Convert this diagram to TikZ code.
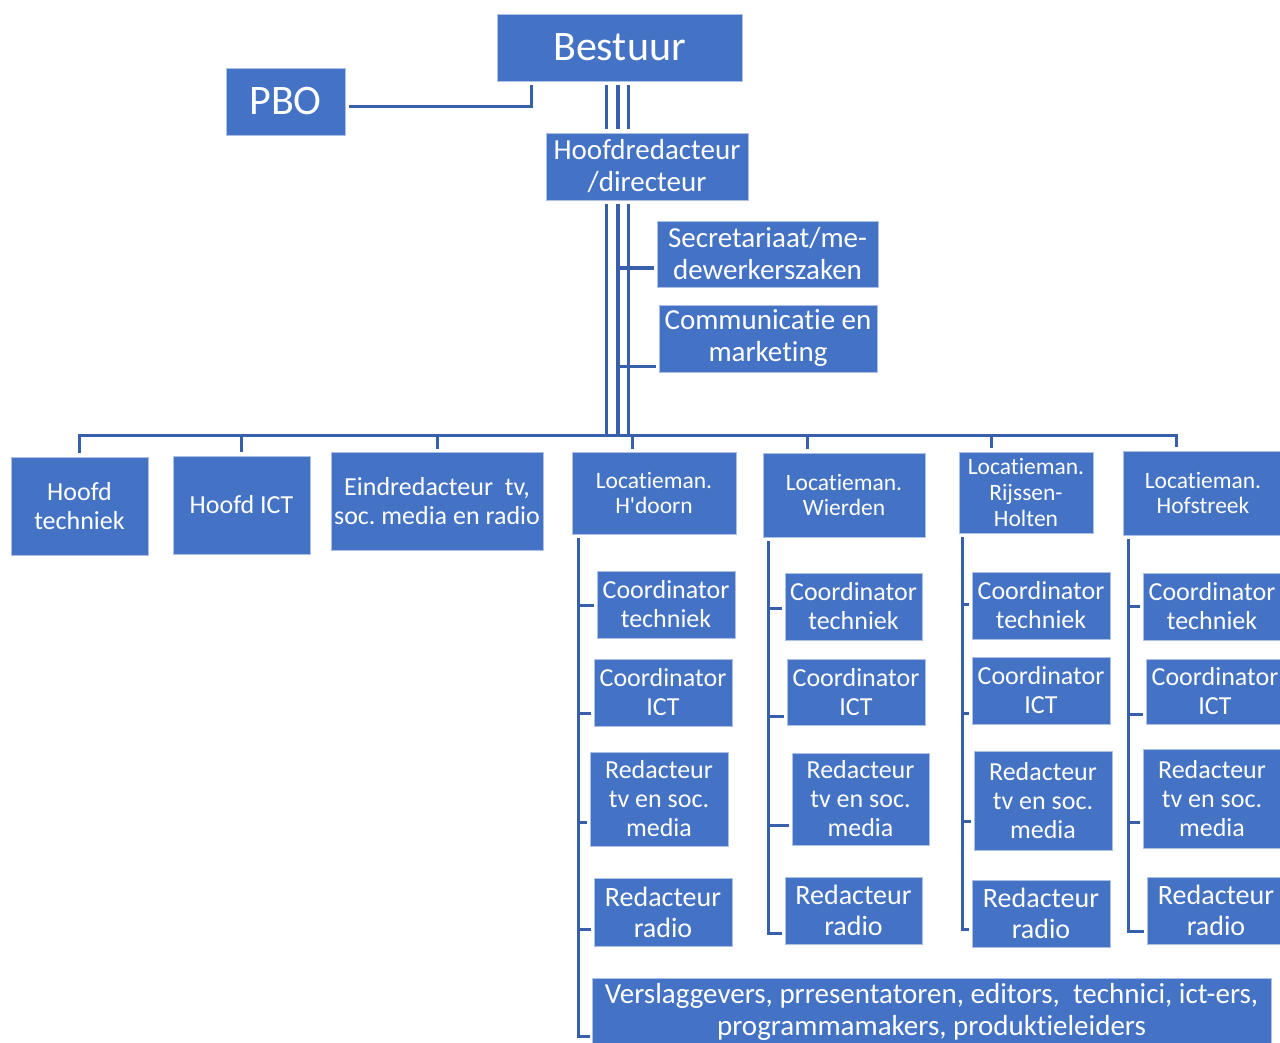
\documentclass[tikz,border=0pt]{standalone}
\usepackage{fontspec}
\setmainfont{Carlito}[Ligatures={NoCommon}]
\usetikzlibrary{calc}
\definecolor{boxblue}{RGB}{68,114,196}
\definecolor{lineblue}{RGB}{56,96,170}
\newcommand{\fsz}[2]{\fontsize{#1}{#2}\selectfont}
\newcommand{\nti}{t\kern0pt i}
\frenchspacing
\begin{document}
\begin{tikzpicture}[x=1pt,y=-1pt,
  box/.style={fill=boxblue, draw=white!55!boxblue, line width=0.8pt, text=white, inner sep=0pt, align=center},
  bx/.style 2 args={minimum width=#1, minimum height=#2},
  conn/.style={draw=lineblue, line width=3pt},
  coord/.style={box, font=\fsz{26}{29}},
  redtv/.style={box, font=\fsz{26}{29}},
  redra/.style={box, font=\fsz{28}{31}},
  loc/.style={box, font=\fsz{23.5}{25.5}},
]
\useasboundingbox (0,0) rectangle (1280,1043);
\clip (0,0) rectangle (1280,1043);
\fill[white] (0,0) rectangle (1280,1043);

% top
\node[box, bx={245}{67}, font=\fsz{42}{48}] (bestuur) at (619.5,47.5) {Bestuur};
\node[box, bx={119}{67}, font=\fsz{42}{48}] (pbo) at (285.5,101.5) {PBO};
\node[box, bx={202}{67}, font=\fsz{29}{32}] (hoofdred) at (647,166.5) {Hoofdredacteur\\/directeur};
\node[box, bx={221}{66}, font=\fsz{29}{32}] (secr) at (767.5,254) {Secretariaat/me-\\dewerkerszaken};
\node[box, bx={218}{67}, font=\fsz{29}{32}] (comm) at (768,338.5) {Communica\nti e en\\marketing};

% row
\node[box, bx={137}{98}, font=\fsz{26}{29}] (htech) at (79.5,506) {Hoofd\\techniek};
\node[box, bx={137}{98}, font=\fsz{26}{29}] (hict) at (241.5,505) {Hoofd ICT};
\node[box, bx={212}{98}, font=\fsz{26}{29}] (eind) at (437,501) {Eindredacteur\ \ tv,\\soc. media en radio};
\node[loc, bx={164}{82}] (lhd) at (654,493) {Loca\nti eman.\\H\textquotesingle doorn};
\node[loc, bx={162}{84}] (lwi) at (844,495) {Loca\nti eman.\\Wierden};
\node[loc, bx={134}{81}, font=\fsz{23.5}{26}] (lri) at (1026,492.5) {Loca\nti eman.\\Rijssen-\\Holten};
\node[loc, bx={160}{84}] (lho) at (1203,493) {Loca\nti eman.\\Hofstreek};

% H'doorn column
\node[coord, bx={138}{67}] (hct) at (666,604.5) {Coordinator\\techniek};
\node[coord, bx={138}{67}] (hci) at (663,692.5) {Coordinator\\ICT};
\node[redtv, bx={138}{94}] (hrt) at (659,799) {Redacteur\\tv en soc.\\media};
\node[redra, bx={138}{68}] (hrr) at (663,912) {Redacteur\\radio};
% Wierden column
\node[coord, bx={137}{67}] (wct) at (853.5,606.5) {Coordinator\\techniek};
\node[coord, bx={138}{66}] (wci) at (856,692) {Coordinator\\ICT};
\node[redtv, bx={137}{92}] (wrt) at (860.5,799) {Redacteur\\tv en soc.\\media};
\node[redra, bx={137}{67}] (wrr) at (853.5,910.5) {Redacteur\\radio};
% Rijssen column
\node[coord, bx={138}{67}] (rct) at (1041,605.5) {Coordinator\\techniek};
\node[coord, bx={138}{67}] (rci) at (1041,690.5) {Coordinator\\ICT};
\node[redtv, bx={138}{99}] (rrt) at (1043,800.5) {Redacteur\\tv en soc.\\media};
\node[redra, bx={138}{67}] (rrr) at (1041,913.5) {Redacteur\\radio};
% Hofstreek column
\node[coord, bx={138}{67}] (oct) at (1212,606.5) {Coordinator\\techniek};
\node[coord, bx={138}{65}] (oci) at (1215,691.5) {Coordinator\\ICT};
\node[redtv, bx={138}{99}] (ort) at (1212,798.5) {Redacteur\\tv en soc.\\media};
\node[redra, bx={138}{67}] (orr) at (1216,910.5) {Redacteur\\radio};

\node[box, bx={679}{68}, font=\fsz{29}{32}] (vers) at (931.5,1012) {Verslaggevers, prresentatoren, editors,\ \ technici, ict-ers,\\programmamakers, produk\nti eleiders};

% connectors: PBO
\coordinate (pboK) at (531,107);
\draw[conn, shorten <=4pt, shorten >=4pt] (pboK |- bestuur.south) -- (pboK) -- (pboK -| pbo.east);

% triple trunk
\coordinate (tA) at (606,0);
\coordinate (tB) at (617.5,0);
\coordinate (tC) at (628.5,0);
\coordinate (busL) at (79,435);
\coordinate (busR) at (1176,435);
\draw[conn, shorten <=4pt, shorten >=4pt] (tA |- bestuur.south) -- (tA |- hoofdred.north);
\draw[conn, line width=4pt, shorten <=4pt, shorten >=4pt] (tB |- bestuur.south) -- (tB |- hoofdred.north);
\draw[conn, shorten <=4pt, shorten >=4pt] (tC |- bestuur.south) -- (tC |- hoofdred.north);
\draw[conn, shorten <=4pt] (tA |- hoofdred.south) -- (tA |- busL);
\draw[conn, line width=4pt, shorten <=4pt] (tB |- hoofdred.south) -- (tB |- busL);
\draw[conn, shorten <=4pt] (tC |- hoofdred.south) -- (tC |- busL);

% staff
\coordinate (sT) at (617.5,268);
\coordinate (cT) at (617.5,366);
\draw[conn, shorten >=3pt] (sT) -- (sT -| secr.west);
\draw[conn, shorten >=3pt] (cT) -- (cT -| comm.west);

% bus
\draw[conn, shorten <=4pt, shorten >=4pt] (busL |- htech.north) -- (busL) -- (busR) -- (busR |- lho.north);
\draw[conn, shorten >=4pt] (hict.north |- busL) -- (hict.north);
\draw[conn, shorten >=3pt] (eind.north |- busL) -- (eind.north);
\coordinate (dH) at (632,435);
\coordinate (dW) at (807,435);
\coordinate (dR) at (991,435);
\draw[conn, shorten >=3pt] (dH) -- (dH |- lhd.north);
\draw[conn, shorten >=4pt] (dW) -- (dW |- lwi.north);
\draw[conn, shorten >=4pt] (dR) -- (dR |- lri.north);

% H'doorn column lines
\coordinate (hT1) at (578,605);
\coordinate (hT2) at (578,713);
\coordinate (hT3) at (578,822);
\coordinate (hT4) at (578,929);
\coordinate (hB) at (578,1036);
\draw[conn, shorten <=4pt, shorten >=2pt] (hT1 |- lhd.south) -- (hB) -- (hB -| vers.west);
\draw[conn, shorten >=3pt] (hT1) -- (hT1 -| hct.west);
\draw[conn, shorten >=3pt] (hT2) -- (hT2 -| hci.west);
\draw[conn, shorten >=3pt] (hT3) -- (hT3 -| hrt.west);
\draw[conn, shorten >=3pt] (hT4) -- (hT4 -| hrr.west);

% Wierden column lines
\coordinate (wT1) at (768,608);
\coordinate (wT2) at (768,716);
\coordinate (wT3) at (768,825);
\coordinate (wB) at (768,933);
\draw[conn, shorten <=4pt, shorten >=3pt] (wT1 |- lwi.south) -- (wB) -- (wB -| wrr.west);
\draw[conn, shorten >=3pt] (wT1) -- (wT1 -| wct.west);
\draw[conn, shorten >=3pt] (wT2) -- (wT2 -| wci.west);
\draw[conn, shorten >=3pt] (wT3) -- (wT3 -| wrt.west);

% Rijssen column lines
\coordinate (rT1) at (962,604);
\coordinate (rT2) at (962,713);
\coordinate (rT3) at (962,821);
\coordinate (rB) at (962,929);
\draw[conn, shorten <=4pt, shorten >=3pt] (rT1 |- lri.south) -- (rB) -- (rB -| rrr.west);
\draw[conn, shorten >=3pt] (rT1) -- (rT1 -| rct.west);
\draw[conn, shorten >=3pt] (rT2) -- (rT2 -| rci.west);
\draw[conn, shorten >=3pt] (rT3) -- (rT3 -| rrt.west);

% Hofstreek column lines
\coordinate (oT1) at (1128,606);
\coordinate (oT2) at (1128,714);
\coordinate (oT3) at (1128,822);
\coordinate (oB) at (1128,931);
\draw[conn, shorten <=4pt, shorten >=3pt] (oT1 |- lho.south) -- (oB) -- (oB -| orr.west);
\draw[conn, shorten >=3pt] (oT1) -- (oT1 -| oct.west);
\draw[conn, shorten >=3pt] (oT2) -- (oT2 -| oci.west);
\draw[conn, shorten >=3pt] (oT3) -- (oT3 -| ort.west);
\end{tikzpicture}
\end{document}
